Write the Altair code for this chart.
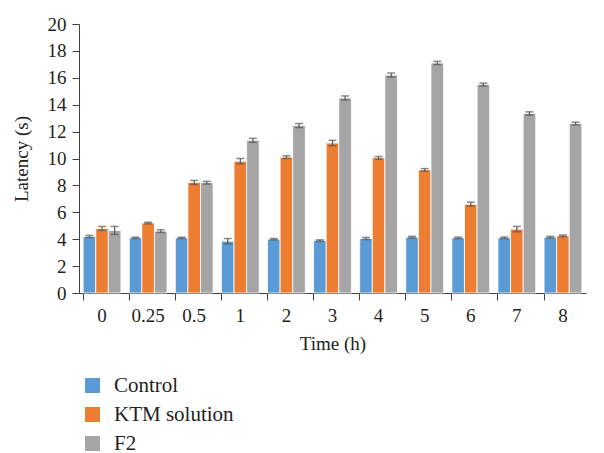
import altair as alt
import pandas as pd

times = ["0", "0.25", "0.5", "1", "2", "3", "4", "5", "6", "7", "8"]
groups = ["Control", "KTM solution", "F2"]
control = [4.2, 4.1, 4.1, 3.85, 4.0, 3.9, 4.05, 4.15, 4.1, 4.1, 4.15]
ktm = [4.8, 5.2, 8.22, 9.8, 10.1, 11.15, 10.05, 9.15, 6.6, 4.75, 4.25]
f2 = [4.65, 4.6, 8.2, 11.35, 12.45, 14.5, 16.2, 17.1, 15.5, 13.35, 12.6]
control_err = [0.08, 0.05, 0.05, 0.2, 0.05, 0.05, 0.08, 0.06, 0.06, 0.06, 0.06]
ktm_err = [0.15, 0.06, 0.15, 0.2, 0.1, 0.2, 0.1, 0.1, 0.15, 0.2, 0.06]
f2_err = [0.3, 0.1, 0.1, 0.15, 0.15, 0.15, 0.15, 0.12, 0.1, 0.12, 0.1]
colors = ["#5B9BD5", "#ED7D31", "#A5A5A5"]

rows = []
for vals, errs, g in [(control, control_err, groups[0]), (ktm, ktm_err, groups[1]), (f2, f2_err, groups[2])]:
    for t, v, e in zip(times, vals, errs):
        rows.append({"Time": t, "Group": g, "Latency": v, "lo": v - e, "hi": v + e})
df = pd.DataFrame(rows)

FONT = "Liberation Serif"
TXT = "#231f20"

x_axis = alt.Axis(title="Time (h)", bandPosition=0, labelAngle=0,
                  tickSize=7, labelPadding=6, titlePadding=9,
                  labelFontSize=19, titleFontSize=19,
                  domainColor="#404040", tickColor="#404040", grid=False)
x_scale = alt.Scale(paddingInner=0.18, paddingOuter=0.09)
y_axis = alt.Axis(title="Latency (s)", values=list(range(0, 21, 2)), tickSize=7,
                  labelPadding=6, titlePadding=16, grid=False, labelOverlap=False,
                  labelFontSize=19, titleFontSize=19,
                  domainColor="#404040", tickColor="#404040")
y_scale = alt.Scale(domain=[0, 20], nice=False)

def X():
    return alt.X("Time:N", sort=times, scale=x_scale, axis=x_axis)

def Y(field):
    return alt.Y(field, scale=y_scale, axis=y_axis)

xoff = alt.XOffset("Group:N", sort=groups)

bars = alt.Chart(df).mark_bar(stroke="white", strokeWidth=1, strokeOpacity=0.8).encode(
    x=X(),
    xOffset=xoff,
    y=Y("Latency:Q"),
    color=alt.Color("Group:N", sort=groups,
                    scale=alt.Scale(domain=groups, range=colors),
                    legend=alt.Legend(title=None, orient="none", legendX=3, legendY=351,
                                      symbolType="square", symbolSize=225,
                                      symbolStrokeWidth=0, labelFontSize=21,
                                      labelFont=FONT, labelColor=TXT,
                                      rowPadding=7, labelOffset=11)),
)

rules = alt.Chart(df).mark_rule(color="#595959", strokeWidth=1.2).encode(
    x=X(), xOffset=xoff, y=Y("lo:Q"), y2="hi:Q")

caps_lo = alt.Chart(df).mark_tick(color="#595959", size=8, thickness=1.5).encode(
    x=X(), xOffset=xoff, y=Y("lo:Q"))
caps_hi = alt.Chart(df).mark_tick(color="#595959", size=8, thickness=1.5).encode(
    x=X(), xOffset=xoff, y=Y("hi:Q"))

chart = alt.layer(bars, rules, caps_lo, caps_hi).properties(
    width=507, height=269,
    autosize=alt.AutoSizeParams(type="none"),
    padding={"left": 71, "top": 16, "right": 10, "bottom": 160},
).configure_view(stroke=None).configure_axis(
    labelFont=FONT, titleFont=FONT,
    labelColor=TXT, titleColor=TXT, titleFontWeight="normal",
).configure_scale(bandPaddingInner=0.18)

chart.save("out.html", embed_options={"renderer": "svg", "actions": False})
